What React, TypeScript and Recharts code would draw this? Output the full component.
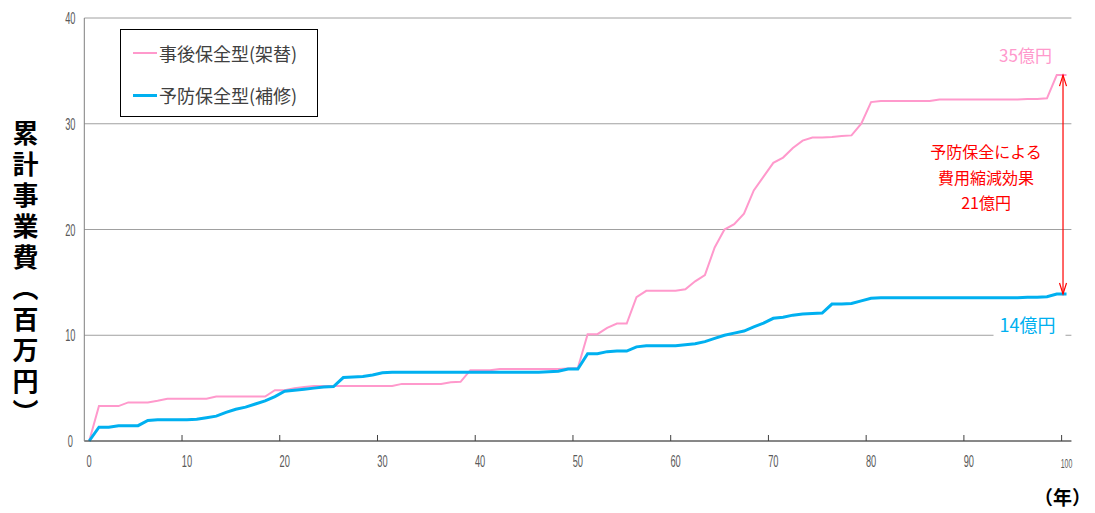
import { LineChart, Line, XAxis, YAxis, CartesianGrid, Legend, ReferenceLine } from 'recharts'

// 年 (0..100)
const years = Array.from({ length: 101 }, (_, i) => i)

// 事後保全型(架替) 累計事業費
const reactive = [
  0, 3.3, 3.3, 3.3, 3.65, 3.65, 3.65, 3.8, 4.0, 4.0,
  4.0, 4.0, 4.0, 4.2, 4.2, 4.2, 4.2, 4.2, 4.2, 4.8,
  4.8, 5.0, 5.1, 5.2, 5.2, 5.2, 5.2, 5.2, 5.2, 5.2,
  5.2, 5.2, 5.4, 5.4, 5.4, 5.4, 5.4, 5.55, 5.6, 6.7,
  6.7, 6.7, 6.8, 6.8, 6.8, 6.8, 6.8, 6.8, 6.8, 6.85,
  6.9, 10.1, 10.1, 10.7, 11.1, 11.1, 13.6, 14.2, 14.2, 14.2,
  14.2, 14.35, 15.1, 15.7, 18.3, 20.0, 20.5, 21.5, 23.7, 25.0,
  26.3, 26.8, 27.7, 28.4, 28.7, 28.7, 28.75, 28.85, 28.9, 30.0,
  32.05, 32.15, 32.15, 32.15, 32.15, 32.15, 32.15, 32.3, 32.3, 32.3,
  32.3, 32.3, 32.3, 32.3, 32.3, 32.3, 32.35, 32.35, 32.4, 34.6,
  34.6,
]

// 予防保全型(補修) 累計事業費
const preventive = [
  0, 1.3, 1.3, 1.45, 1.45, 1.45, 1.95, 2.0, 2.0, 2.0,
  2.0, 2.05, 2.2, 2.35, 2.7, 3.0, 3.2, 3.5, 3.8, 4.2,
  4.7, 4.8, 4.9, 5.0, 5.1, 5.15, 6.0, 6.05, 6.1, 6.25,
  6.45, 6.5, 6.5, 6.5, 6.5, 6.5, 6.5, 6.5, 6.5, 6.5,
  6.5, 6.5, 6.5, 6.5, 6.5, 6.5, 6.5, 6.55, 6.6, 6.8,
  6.8, 8.25, 8.25, 8.45, 8.5, 8.5, 8.9, 9.0, 9.0, 9.0,
  9.0, 9.1, 9.2, 9.4, 9.7, 10.0, 10.2, 10.4, 10.8, 11.15,
  11.6, 11.7, 11.9, 12.0, 12.05, 12.1, 12.95, 12.95, 13.0, 13.25,
  13.5, 13.55, 13.55, 13.55, 13.55, 13.55, 13.55, 13.55, 13.55, 13.55,
  13.55, 13.55, 13.55, 13.55, 13.55, 13.55, 13.6, 13.6, 13.65, 13.9,
  13.9,
]

const xTicks = [0, 10, 20, 30, 40, 50, 60, 70, 80, 90, 100]
const yTicks = [0, 10, 20, 30, 40]
const seriesNames = ['事後保全型(架替)', '予防保全型(補修)']
const endLabels = ['35億円', '14億円']
const gapLabel = ['予防保全による', '費用縮減効果', '21億円']
const yTitle = '累計事業費（百万円）'
const xTitle = '（年）'

const PINK = '#FF99CC'
const BLUE = '#00B0F0'
const RED = '#FF0000'
const JP = '"Noto Sans CJK JP", "Noto Sans", sans-serif'

const data = years.map((y, i) => ({ year: y, reactive: reactive[i], preventive: preventive[i] }))
const lastYear = years[years.length - 1]

// half a category: tick marks sit between years like an Excel category axis
const HALF_STEP = 4.89

const XTick = (props: any) => {
  const { x, y, payload } = props
  const small = payload.value === 100
  return (
    <g>
      {payload.value > 0 && (
        <line x1={x - HALF_STEP} y1={y} x2={x - HALF_STEP} y2={y - 6} stroke="#404040" strokeWidth={1} />
      )}
      <text
        transform={`translate(${x},${y + (small ? 27 : 26)}) scale(0.58,1)`}
        textAnchor="middle"
        fontSize={small ? 12 : 16}
        fill="#595959"
        fontFamily="Liberation Sans, sans-serif"
      >
        {payload.value}
      </text>
    </g>
  )
}

const YTick = (props: any) => {
  const { x, y, payload } = props
  return (
    <text
      transform={`translate(${x - 14},${y + 6}) scale(0.58,1)`}
      textAnchor="middle"
      fontSize={16}
      fill="#595959"
      fontFamily="Liberation Sans, sans-serif"
    >
      {payload.value}
    </text>
  )
}

const GapArrow = (props: any) => {
  const { x1, y1, y2 } = props
  const x = x1 - 3.5
  const top = Math.min(y1, y2)
  const bottom = Math.max(y1, y2)
  return (
    <g>
      <line x1={x} y1={top} x2={x} y2={bottom} stroke={RED} strokeWidth={1.2} />
      <polyline points={`${x - 3.5},${top + 11} ${x},${top} ${x + 3.5},${top + 11}`} fill="none" stroke={RED} strokeWidth={1.2} />
      <polyline points={`${x - 3.5},${bottom - 11} ${x},${bottom} ${x + 3.5},${bottom - 11}`} fill="none" stroke={RED} strokeWidth={1.2} />
      {gapLabel.map((t, i) => (
        <text key={t} x={x - 77} y={top + 83 + i * 25.5} textAnchor="middle" fontSize={16} fill={RED} fontFamily={JP}>
          {t}
        </text>
      ))}
      <text x={x1 - 41} y={top - 13} textAnchor="middle" fontSize={17} fill={PINK} fontFamily={JP}>
        {endLabels[0]}
      </text>
      <rect x={x1 - 73} y={bottom + 20} width={72} height={27} fill="#fff" />
      <text x={x1 - 39} y={bottom + 38} textAnchor="middle" fontSize={18} fill={BLUE} fontFamily={JP}>
        {endLabels[1]}
      </text>
    </g>
  )
}

const LegendBox = () => (
  <div
    style={{
      position: 'relative',
      width: 198,
      height: 88,
      boxSizing: 'border-box',
      border: '1px solid #000',
      background: '#fff',
      fontFamily: JP,
      fontSize: 18,
      color: '#404040',
    }}
  >
    {seriesNames.map((name, i) => (
      <div key={name} style={{ position: 'absolute', left: 12, top: 10 + i * 42, height: 26, display: 'flex', alignItems: 'center' }}>
        <span style={{ display: 'inline-block', width: 24, height: i === 0 ? 2 : 3, background: i === 0 ? PINK : BLUE, marginRight: 2 }} />
        <span style={{ whiteSpace: 'nowrap', lineHeight: '26px' }}>{name}</span>
      </div>
    ))}
  </div>
)

export default function App() {
  return (
    <div style={{ position: 'fixed', left: 0, top: 0, width: 1095, height: 513, background: '#fff' }}>
      <LineChart width={1095} height={513} data={data} margin={{ top: 18, right: 23.6, bottom: 42, left: 24.3 }}>
        <CartesianGrid vertical={false} stroke="#a0a0a0" />
        <XAxis
          type="number"
          dataKey="year"
          domain={[-0.5, 100.5]}
          ticks={xTicks}
          tick={<XTick />}
          tickLine={false}
          tickSize={0}
          tickMargin={0}
          axisLine={{ stroke: '#404040' }}
          height={30}
          interval={0}
        />
        <YAxis
          domain={[0, 40]}
          ticks={yTicks}
          tick={<YTick />}
          tickLine={false}
          tickSize={0}
          tickMargin={0}
          axisLine={{ stroke: '#7f7f7f' }}
          width={60}
          interval={0}
        />
        <YAxis yAxisId="r" orientation="right" domain={[0, 40]} tick={false} tickLine={false} axisLine={{ stroke: '#8c8c8c' }} width={0} />
        <Legend
          layout="horizontal"
          verticalAlign="middle"
          align="center"
          content={<LegendBox />}
          wrapperStyle={{ left: 120, top: 29, width: 198, height: 88 }}
        />
        <Line
          type="linear"
          dataKey="reactive"
          name={seriesNames[0]}
          stroke={PINK}
          strokeWidth={2}
          dot={false}
          activeDot={false}
          isAnimationActive={false}
        />
        <Line
          type="linear"
          dataKey="preventive"
          name={seriesNames[1]}
          stroke={BLUE}
          strokeWidth={3}
          dot={false}
          activeDot={false}
          isAnimationActive={false}
        />
        <ReferenceLine
          segment={[
            { x: lastYear, y: reactive[reactive.length - 1] },
            { x: lastYear, y: preventive[preventive.length - 1] },
          ]}
          shape={<GapArrow />}
        />
      </LineChart>
      <div
        style={{
          position: 'absolute',
          left: 12,
          top: 120,
          writingMode: 'vertical-rl',
          fontFamily: JP,
          fontWeight: 700,
          fontSize: 26,
          lineHeight: 1,
          letterSpacing: 5,
          color: '#000',
        }}
      >
        {yTitle}
      </div>
      <div
        style={{
          position: 'absolute',
          left: 1034,
          top: 487,
          fontFamily: JP,
          fontWeight: 700,
          fontSize: 19,
          lineHeight: '20px',
          color: '#000',
          whiteSpace: 'nowrap',
        }}
      >
        {xTitle}
      </div>
    </div>
  )
}
